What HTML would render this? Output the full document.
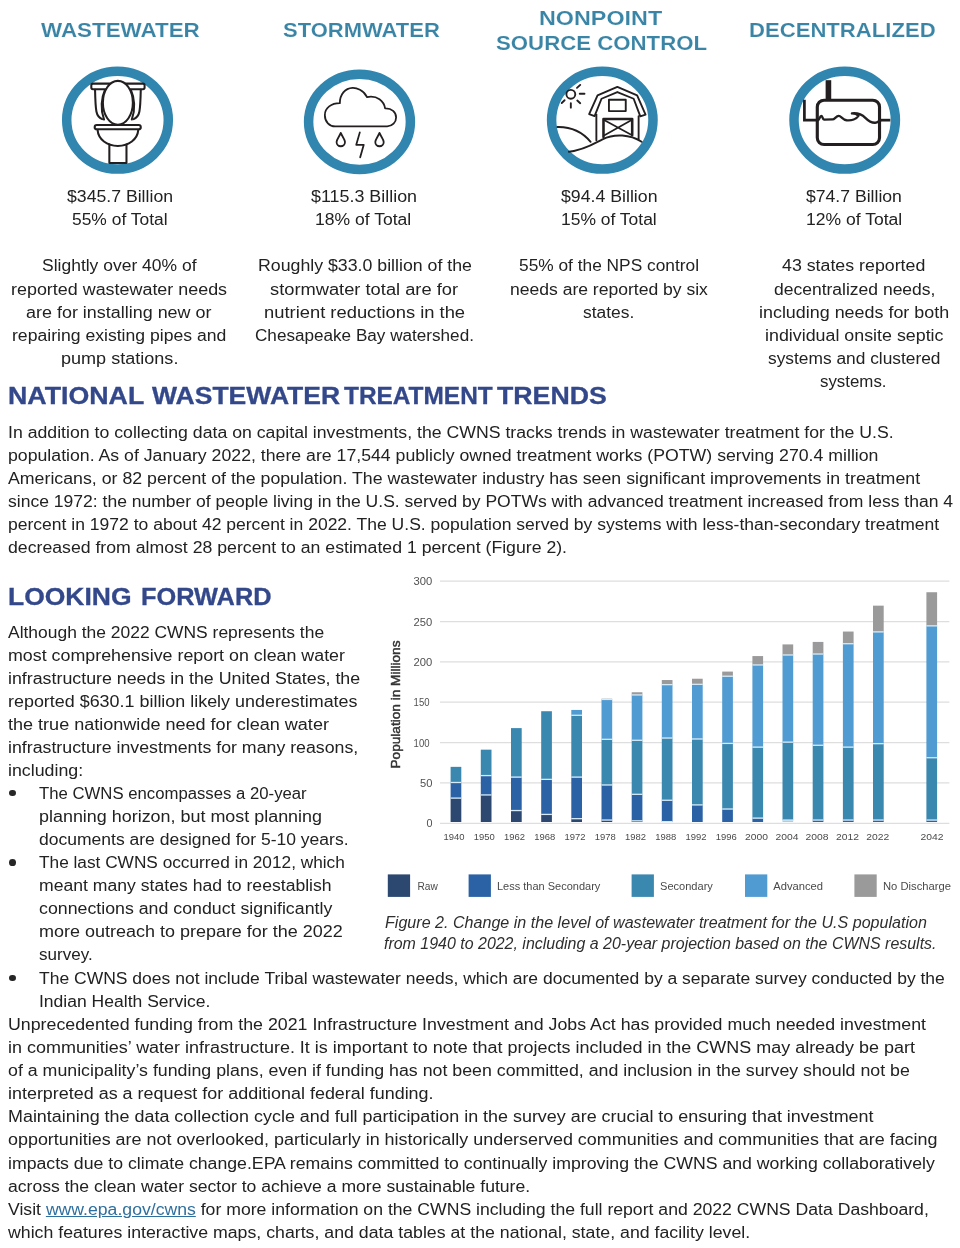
<!DOCTYPE html>
<html><head><meta charset="utf-8"><title>CWNS</title>
<style>
html,body{margin:0;padding:0;background:#fff;}
body{font-family:"Liberation Sans",sans-serif;}
#pg{position:relative;width:960px;height:1248px;overflow:hidden;background:#fff;}
.t{position:absolute;white-space:nowrap;line-height:1.117;transform-origin:0 0;will-change:transform;}
.b{color:#222;font-family:"Liberation Sans",sans-serif;}
.h{font-weight:bold;font-family:"Liberation Sans",sans-serif;}
.c{font-style:italic;color:#2e2e2e;font-family:"Liberation Sans",sans-serif;}
.b u{color:#2e6f9e;text-decoration:underline;}
svg{position:absolute;overflow:visible;will-change:transform;}
.bu{position:absolute;width:7px;height:6.7px;border-radius:50%;background:#262626;}
.h2{word-spacing:-2.6px;}
.hs{-webkit-text-stroke:0.1px #fff;}
.hb{-webkit-text-stroke:0.3px currentColor;}

</style></head>
<body>
<div id="pg">
<!-- icon rings -->
<svg width="960" height="190" style="left:0;top:0" viewBox="0 0 960 190">
 <g fill="none" stroke="#3186b0" stroke-width="9.5">
  <ellipse cx="117.5" cy="120.1" rx="50.8" ry="48.95"/>
  <ellipse cx="359.5" cy="121.85" rx="50.9" ry="47.7"/>
  <ellipse cx="602.3" cy="120.1" rx="50.7" ry="48.95"/>
  <ellipse cx="844.7" cy="120.1" rx="50.7" ry="48.95"/>
 </g>
 <!-- toilet : zoom coords origin (85,75) scale 1/13.14 -->
 <g transform="translate(85,75) scale(0.0761)" fill="none" stroke="#231f20" stroke-width="27" stroke-linecap="round" stroke-linejoin="round">
  <rect x="83" y="113" width="700" height="74" rx="22"/>
  <path d="M132,195 C135,330 140,430 150,480 C160,530 190,565 225,580"/>
  <path d="M733,195 C730,330 725,430 715,480 C705,530 675,565 640,580"/>
  <path d="M262,197 C215,300 200,450 250,585"/>
  <path d="M603,197 C650,300 665,450 615,585"/>
  <ellipse cx="432" cy="365" rx="197" ry="288" fill="#fff"/>
  <rect x="127" y="657" width="606" height="56" rx="28" fill="#fff"/>
  <path d="M165,722 C175,850 290,930 432,932 C575,930 690,850 700,722"/>
  <path d="M320,915 L320,1157 L545,1157 L545,915"/>
 </g>
 <!-- cloud : origin (315,75) scale 1/10.667 -->
 <g transform="translate(315,75) scale(0.09375)" fill="none" stroke="#231f20" stroke-width="19" stroke-linecap="round" stroke-linejoin="round">
  <path d="M215,548 L770,548 C825,548 865,505 865,452 C865,400 820,352 748,355 C735,275 665,215 555,235 C520,160 440,135 400,137 C320,140 265,210 265,300 C175,300 105,350 105,428 C105,500 155,548 215,548 Z"/>
  <path d="M275,618 C258,660 230,688 230,715 A45,45 0 0 0 320,715 C320,688 292,660 275,618 Z"/>
  <path d="M688,618 C671,660 643,688 643,715 A45,45 0 0 0 733,715 C733,688 705,660 688,618 Z"/>
  <path d="M478,612 L440,745 L520,745 L482,878"/>
 </g>
 <!-- barn : origin (555,75) scale 1/10.105 -->
 <g transform="translate(555,75) scale(0.09896)" fill="none" stroke="#231f20" stroke-width="19" stroke-linecap="round" stroke-linejoin="round">
  <path d="M400,415 L345,395 L430,205 L630,120 L830,205 L915,400 L862,418 L795,240 L630,172 L470,240 Z"/>
  <path d="M418,400 L418,660"/>
  <path d="M845,415 L845,650"/>
  <rect x="545" y="250" width="170" height="115"/>
  <path d="M490,626 L490,445 L780,445 L780,610" stroke-width="26"/>
  <path d="M500,458 L770,603 M770,458 L500,608" stroke-width="17"/>
  <circle cx="160" cy="195" r="45"/>
  <path d="M222,130 L255,100 M250,190 L298,190 M225,258 L255,285 M160,285 L160,330 M97,255 L68,283"/>
  <path d="M25,525 Q230,520 360,675"/>
  <path d="M140,775 C300,760 400,690 480,650 C600,590 760,600 875,675"/>
 </g>
 <!-- septic : origin (782,60) scale 1/7.68 -->
 <g transform="translate(782,60) scale(0.130208)" fill="none" stroke="#231f20" stroke-width="24" stroke-linecap="butt" stroke-linejoin="round">
  <rect x="271" y="309" width="478" height="340" rx="52"/>
  <rect x="335" y="155" width="43" height="152" fill="#231f20" stroke="none"/>
  <path d="M172,305 L172,462 L268,462" stroke-width="21" stroke-linejoin="miter"/>
  <path d="M752,462 L832,462" stroke-width="21"/>
  <path d="M275,463 C286,463 290,429 302,429 C312,429 309,455 324,458 L389,456 C404,456 416,429 435,429 C454,429 465,459 496,463 C534,467 572,452 587,429 C575,414 553,410 537,410 C579,406 617,421 640,444 C663,467 686,484 716,482 C735,481 747,465 758,463" stroke-width="18" stroke-linecap="round"/>
 </g>
</svg>
<svg width="960" height="340" style="left:0;top:570px" viewBox="0 570 960 340">
<line x1="440.0" y1="823.3" x2="949.4" y2="823.3" stroke="#dedede" stroke-width="1.2"/>
<text x="426.5" y="827.3" font-size="10.2" fill="#505050" class="ax" textLength="6.0" lengthAdjust="spacingAndGlyphs">0</text>
<line x1="440.0" y1="782.9" x2="949.4" y2="782.9" stroke="#dedede" stroke-width="1.2"/>
<text x="420.1" y="786.9" font-size="10.2" fill="#505050" class="ax" textLength="12.4" lengthAdjust="spacingAndGlyphs">50</text>
<line x1="440.0" y1="742.6" x2="949.4" y2="742.6" stroke="#dedede" stroke-width="1.2"/>
<text x="413.6" y="746.6" font-size="10.2" fill="#505050" class="ax" textLength="15.9" lengthAdjust="spacingAndGlyphs">100</text>
<line x1="440.0" y1="702.2" x2="949.4" y2="702.2" stroke="#dedede" stroke-width="1.2"/>
<text x="413.6" y="706.2" font-size="10.2" fill="#505050" class="ax" textLength="15.9" lengthAdjust="spacingAndGlyphs">150</text>
<line x1="440.0" y1="661.9" x2="949.4" y2="661.9" stroke="#dedede" stroke-width="1.2"/>
<text x="413.6" y="665.9" font-size="10.2" fill="#505050" class="ax" textLength="18.7" lengthAdjust="spacingAndGlyphs">200</text>
<line x1="440.0" y1="621.6" x2="949.4" y2="621.6" stroke="#dedede" stroke-width="1.2"/>
<text x="413.6" y="625.6" font-size="10.2" fill="#505050" class="ax" textLength="18.7" lengthAdjust="spacingAndGlyphs">250</text>
<line x1="440.0" y1="581.2" x2="949.4" y2="581.2" stroke="#dedede" stroke-width="1.2"/>
<text x="413.6" y="585.2" font-size="10.2" fill="#505050" class="ax" textLength="18.7" lengthAdjust="spacingAndGlyphs">300</text>
<rect x="450.6" y="798.14" width="10.7" height="23.86" fill="#2c4770"/>
<rect x="450.6" y="782.54" width="10.7" height="15.60" fill="#2b62a6"/>
<rect x="450.6" y="797.44" width="10.7" height="1.3" fill="#d6eaf7"/>
<rect x="450.6" y="766.86" width="10.7" height="15.68" fill="#3a87b0"/>
<rect x="450.6" y="781.84" width="10.7" height="1.3" fill="#d6eaf7"/>
<text x="443.4" y="839.8" font-size="9.6" fill="#4a4a4a" class="ax" textLength="21.0" lengthAdjust="spacingAndGlyphs">1940</text>
<rect x="480.8" y="795.00" width="10.7" height="27.00" fill="#2c4770"/>
<rect x="480.8" y="775.63" width="10.7" height="19.38" fill="#2b62a6"/>
<rect x="480.8" y="794.30" width="10.7" height="1.3" fill="#d6eaf7"/>
<rect x="480.8" y="749.66" width="10.7" height="25.97" fill="#3a87b0"/>
<rect x="480.8" y="774.93" width="10.7" height="1.3" fill="#d6eaf7"/>
<text x="473.7" y="839.8" font-size="9.6" fill="#4a4a4a" class="ax" textLength="21.0" lengthAdjust="spacingAndGlyphs">1950</text>
<rect x="511.0" y="810.60" width="10.7" height="11.40" fill="#2c4770"/>
<rect x="511.0" y="777.15" width="10.7" height="33.45" fill="#2b62a6"/>
<rect x="511.0" y="809.90" width="10.7" height="1.3" fill="#d6eaf7"/>
<rect x="511.0" y="728.11" width="10.7" height="49.04" fill="#3a87b0"/>
<rect x="511.0" y="776.45" width="10.7" height="1.3" fill="#d6eaf7"/>
<text x="503.9" y="839.8" font-size="9.6" fill="#4a4a4a" class="ax" textLength="21.0" lengthAdjust="spacingAndGlyphs">1962</text>
<rect x="541.2" y="814.46" width="10.7" height="7.54" fill="#2c4770"/>
<rect x="541.2" y="779.41" width="10.7" height="35.05" fill="#2b62a6"/>
<rect x="541.2" y="813.76" width="10.7" height="1.3" fill="#d6eaf7"/>
<rect x="541.2" y="711.23" width="10.7" height="68.18" fill="#3a87b0"/>
<rect x="541.2" y="778.71" width="10.7" height="1.3" fill="#d6eaf7"/>
<text x="534.2" y="839.8" font-size="9.6" fill="#4a4a4a" class="ax" textLength="21.0" lengthAdjust="spacingAndGlyphs">1968</text>
<rect x="571.3" y="818.72" width="10.7" height="3.28" fill="#2c4770"/>
<rect x="571.3" y="777.15" width="10.7" height="41.57" fill="#2b62a6"/>
<rect x="571.3" y="818.02" width="10.7" height="1.3" fill="#d6eaf7"/>
<rect x="571.3" y="715.33" width="10.7" height="61.83" fill="#3a87b0"/>
<rect x="571.3" y="776.45" width="10.7" height="1.3" fill="#d6eaf7"/>
<rect x="571.3" y="709.94" width="10.7" height="5.39" fill="#519bd3"/>
<rect x="571.3" y="714.63" width="10.7" height="1.3" fill="#d6eaf7"/>
<text x="564.5" y="839.8" font-size="9.6" fill="#4a4a4a" class="ax" textLength="21.0" lengthAdjust="spacingAndGlyphs">1972</text>
<rect x="601.5" y="820.09" width="10.7" height="1.91" fill="#2c4770"/>
<rect x="601.5" y="785.03" width="10.7" height="35.05" fill="#2b62a6"/>
<rect x="601.5" y="819.39" width="10.7" height="1.3" fill="#d6eaf7"/>
<rect x="601.5" y="739.37" width="10.7" height="45.67" fill="#3a87b0"/>
<rect x="601.5" y="784.33" width="10.7" height="1.3" fill="#d6eaf7"/>
<rect x="601.5" y="699.49" width="10.7" height="39.88" fill="#519bd3"/>
<rect x="601.5" y="738.67" width="10.7" height="1.3" fill="#d6eaf7"/>
<rect x="601.5" y="698.68" width="10.7" height="0.80" fill="#9a9a9a"/>
<rect x="601.5" y="698.79" width="10.7" height="1.3" fill="#d6eaf7"/>
<text x="594.8" y="839.8" font-size="9.6" fill="#4a4a4a" class="ax" textLength="21.0" lengthAdjust="spacingAndGlyphs">1978</text>
<rect x="631.7" y="820.89" width="10.7" height="1.11" fill="#2c4770"/>
<rect x="631.7" y="794.36" width="10.7" height="26.53" fill="#2b62a6"/>
<rect x="631.7" y="820.19" width="10.7" height="1.3" fill="#d6eaf7"/>
<rect x="631.7" y="740.33" width="10.7" height="54.03" fill="#3a87b0"/>
<rect x="631.7" y="793.66" width="10.7" height="1.3" fill="#d6eaf7"/>
<rect x="631.7" y="694.99" width="10.7" height="45.35" fill="#519bd3"/>
<rect x="631.7" y="739.63" width="10.7" height="1.3" fill="#d6eaf7"/>
<rect x="631.7" y="692.25" width="10.7" height="2.73" fill="#9a9a9a"/>
<rect x="631.7" y="694.29" width="10.7" height="1.3" fill="#d6eaf7"/>
<text x="625.0" y="839.8" font-size="9.6" fill="#4a4a4a" class="ax" textLength="21.0" lengthAdjust="spacingAndGlyphs">1982</text>
<rect x="661.8" y="821.70" width="10.7" height="0.30" fill="#2c4770"/>
<rect x="661.8" y="800.31" width="10.7" height="21.39" fill="#2b62a6"/>
<rect x="661.8" y="821.00" width="10.7" height="1.3" fill="#d6eaf7"/>
<rect x="661.8" y="738.08" width="10.7" height="62.23" fill="#3a87b0"/>
<rect x="661.8" y="799.61" width="10.7" height="1.3" fill="#d6eaf7"/>
<rect x="661.8" y="684.69" width="10.7" height="53.39" fill="#519bd3"/>
<rect x="661.8" y="737.38" width="10.7" height="1.3" fill="#d6eaf7"/>
<rect x="661.8" y="680.03" width="10.7" height="4.66" fill="#9a9a9a"/>
<rect x="661.8" y="683.99" width="10.7" height="1.3" fill="#d6eaf7"/>
<text x="655.3" y="839.8" font-size="9.6" fill="#4a4a4a" class="ax" textLength="21.0" lengthAdjust="spacingAndGlyphs">1988</text>
<rect x="692.0" y="804.97" width="10.7" height="17.03" fill="#2b62a6"/>
<rect x="692.0" y="739.04" width="10.7" height="65.93" fill="#3a87b0"/>
<rect x="692.0" y="804.27" width="10.7" height="1.3" fill="#d6eaf7"/>
<rect x="692.0" y="684.37" width="10.7" height="54.67" fill="#519bd3"/>
<rect x="692.0" y="738.34" width="10.7" height="1.3" fill="#d6eaf7"/>
<rect x="692.0" y="678.74" width="10.7" height="5.63" fill="#9a9a9a"/>
<rect x="692.0" y="683.67" width="10.7" height="1.3" fill="#d6eaf7"/>
<text x="685.6" y="839.8" font-size="9.6" fill="#4a4a4a" class="ax" textLength="21.0" lengthAdjust="spacingAndGlyphs">1992</text>
<rect x="722.2" y="809.07" width="10.7" height="12.93" fill="#2b62a6"/>
<rect x="722.2" y="743.47" width="10.7" height="65.61" fill="#3a87b0"/>
<rect x="722.2" y="808.37" width="10.7" height="1.3" fill="#d6eaf7"/>
<rect x="722.2" y="676.25" width="10.7" height="67.21" fill="#519bd3"/>
<rect x="722.2" y="742.77" width="10.7" height="1.3" fill="#d6eaf7"/>
<rect x="722.2" y="671.59" width="10.7" height="4.66" fill="#9a9a9a"/>
<rect x="722.2" y="675.55" width="10.7" height="1.3" fill="#d6eaf7"/>
<text x="715.8" y="839.8" font-size="9.6" fill="#4a4a4a" class="ax" textLength="21.0" lengthAdjust="spacingAndGlyphs">1996</text>
<rect x="752.4" y="818.16" width="10.7" height="3.84" fill="#2b62a6"/>
<rect x="752.4" y="747.17" width="10.7" height="70.99" fill="#3a87b0"/>
<rect x="752.4" y="817.46" width="10.7" height="1.3" fill="#d6eaf7"/>
<rect x="752.4" y="665.00" width="10.7" height="82.17" fill="#519bd3"/>
<rect x="752.4" y="746.47" width="10.7" height="1.3" fill="#d6eaf7"/>
<rect x="752.4" y="656.07" width="10.7" height="8.92" fill="#9a9a9a"/>
<rect x="752.4" y="664.30" width="10.7" height="1.3" fill="#d6eaf7"/>
<text x="745.1" y="839.8" font-size="9.6" fill="#4a4a4a" class="ax" textLength="23.0" lengthAdjust="spacingAndGlyphs">2000</text>
<rect x="782.5" y="820.09" width="10.7" height="1.91" fill="#a8cfe6"/>
<rect x="782.5" y="742.18" width="10.7" height="77.91" fill="#3a87b0"/>
<rect x="782.5" y="819.39" width="10.7" height="1.3" fill="#d6eaf7"/>
<rect x="782.5" y="655.03" width="10.7" height="87.15" fill="#519bd3"/>
<rect x="782.5" y="741.48" width="10.7" height="1.3" fill="#d6eaf7"/>
<rect x="782.5" y="644.41" width="10.7" height="10.61" fill="#9a9a9a"/>
<rect x="782.5" y="654.33" width="10.7" height="1.3" fill="#d6eaf7"/>
<text x="775.4" y="839.8" font-size="9.6" fill="#4a4a4a" class="ax" textLength="23.0" lengthAdjust="spacingAndGlyphs">2004</text>
<rect x="812.7" y="820.09" width="10.7" height="1.91" fill="#2b62a6"/>
<rect x="812.7" y="745.32" width="10.7" height="74.77" fill="#3a87b0"/>
<rect x="812.7" y="819.39" width="10.7" height="1.3" fill="#d6eaf7"/>
<rect x="812.7" y="654.06" width="10.7" height="91.25" fill="#519bd3"/>
<rect x="812.7" y="744.62" width="10.7" height="1.3" fill="#d6eaf7"/>
<rect x="812.7" y="641.92" width="10.7" height="12.14" fill="#9a9a9a"/>
<rect x="812.7" y="653.36" width="10.7" height="1.3" fill="#d6eaf7"/>
<text x="805.6" y="839.8" font-size="9.6" fill="#4a4a4a" class="ax" textLength="23.0" lengthAdjust="spacingAndGlyphs">2008</text>
<rect x="842.9" y="820.09" width="10.7" height="1.91" fill="#2b62a6"/>
<rect x="842.9" y="747.17" width="10.7" height="72.92" fill="#3a87b0"/>
<rect x="842.9" y="819.39" width="10.7" height="1.3" fill="#d6eaf7"/>
<rect x="842.9" y="643.77" width="10.7" height="103.39" fill="#519bd3"/>
<rect x="842.9" y="746.47" width="10.7" height="1.3" fill="#d6eaf7"/>
<rect x="842.9" y="631.55" width="10.7" height="12.22" fill="#9a9a9a"/>
<rect x="842.9" y="643.07" width="10.7" height="1.3" fill="#d6eaf7"/>
<text x="835.9" y="839.8" font-size="9.6" fill="#4a4a4a" class="ax" textLength="23.0" lengthAdjust="spacingAndGlyphs">2012</text>
<rect x="873.0" y="820.09" width="10.7" height="1.91" fill="#2b62a6"/>
<rect x="873.0" y="743.71" width="10.7" height="76.38" fill="#3a87b0"/>
<rect x="873.0" y="819.39" width="10.7" height="1.3" fill="#d6eaf7"/>
<rect x="873.0" y="631.95" width="10.7" height="111.76" fill="#519bd3"/>
<rect x="873.0" y="743.01" width="10.7" height="1.3" fill="#d6eaf7"/>
<rect x="873.0" y="605.66" width="10.7" height="26.29" fill="#9a9a9a"/>
<rect x="873.0" y="631.25" width="10.7" height="1.3" fill="#d6eaf7"/>
<text x="866.2" y="839.8" font-size="9.6" fill="#4a4a4a" class="ax" textLength="23.0" lengthAdjust="spacingAndGlyphs">2022</text>
<rect x="926.4" y="820.09" width="10.7" height="1.91" fill="#2b62a6"/>
<rect x="926.4" y="757.78" width="10.7" height="62.31" fill="#3a87b0"/>
<rect x="926.4" y="819.39" width="10.7" height="1.3" fill="#d6eaf7"/>
<rect x="926.4" y="625.92" width="10.7" height="131.86" fill="#519bd3"/>
<rect x="926.4" y="757.08" width="10.7" height="1.3" fill="#d6eaf7"/>
<rect x="926.4" y="592.23" width="10.7" height="33.69" fill="#9a9a9a"/>
<rect x="926.4" y="625.22" width="10.7" height="1.3" fill="#d6eaf7"/>
<text x="920.5" y="839.8" font-size="9.6" fill="#4a4a4a" class="ax" textLength="23.0" lengthAdjust="spacingAndGlyphs">2042</text>
<text transform="translate(400,768.5) rotate(-90)" font-size="12.6" fill="#333" stroke="#333" stroke-width="0.45" class="ax" textLength="128" lengthAdjust="spacingAndGlyphs">Population in Millions</text>
<rect x="387.8" y="874.4" width="22.3" height="22.5" fill="#2c4770"/>
<text x="417.5" y="890" font-size="10" fill="#4a4a4a" class="ax" textLength="20.3" lengthAdjust="spacingAndGlyphs">Raw</text>
<rect x="468.6" y="874.4" width="22.3" height="22.5" fill="#2b62a6"/>
<text x="497.0" y="890" font-size="10" fill="#4a4a4a" class="ax" textLength="103.3" lengthAdjust="spacingAndGlyphs">Less than Secondary</text>
<rect x="631.6" y="874.4" width="22.3" height="22.5" fill="#3a87b0"/>
<text x="660.0" y="890" font-size="10" fill="#4a4a4a" class="ax" textLength="52.9" lengthAdjust="spacingAndGlyphs">Secondary</text>
<rect x="745.0" y="874.4" width="22.3" height="22.5" fill="#519bd3"/>
<text x="773.2" y="890" font-size="10" fill="#4a4a4a" class="ax" textLength="49.8" lengthAdjust="spacingAndGlyphs">Advanced</text>
<rect x="854.4" y="874.4" width="22.3" height="22.5" fill="#9a9a9a"/>
<text x="883.0" y="890" font-size="10" fill="#4a4a4a" class="ax" textLength="68.0" lengthAdjust="spacingAndGlyphs">No Discharge</text>
</svg>

<div class="t b" style="left:66.7px;top:188.4px;font-size:15.6px;transform:scaleX(1.1323)">$345.7 Billion</div>
<div class="t b" style="left:71.6px;top:211.4px;font-size:15.6px;transform:scaleX(1.1167)">55% of Total</div>
<div class="t b" style="left:41.7px;top:257.4px;font-size:15.6px;transform:scaleX(1.1212)">Slightly over 40% of</div>
<div class="t b" style="left:11.1px;top:280.9px;font-size:15.6px;transform:scaleX(1.1487)">reported wastewater needs</div>
<div class="t b" style="left:26.0px;top:303.9px;font-size:15.6px;transform:scaleX(1.1506)">are for installing new or</div>
<div class="t b" style="left:12.4px;top:326.9px;font-size:15.6px;transform:scaleX(1.1293)">repairing existing pipes and</div>
<div class="t b" style="left:61.0px;top:349.9px;font-size:15.6px;transform:scaleX(1.1576)">pump stations.</div>
<div class="t b" style="left:311.0px;top:188.4px;font-size:15.6px;transform:scaleX(1.1467)">$115.3 Billion</div>
<div class="t b" style="left:315.4px;top:211.4px;font-size:15.6px;transform:scaleX(1.1250)">18% of Total</div>
<div class="t b" style="left:257.5px;top:257.4px;font-size:15.6px;transform:scaleX(1.1374)">Roughly $33.0 billion of the</div>
<div class="t b" style="left:270.1px;top:280.9px;font-size:15.6px;transform:scaleX(1.1730)">stormwater total are for</div>
<div class="t b" style="left:263.8px;top:303.9px;font-size:15.6px;transform:scaleX(1.1775)">nutrient reductions in the</div>
<div class="t b" style="left:254.9px;top:326.9px;font-size:15.6px;transform:scaleX(1.0980)">Chesapeake Bay watershed.</div>
<div class="t b" style="left:560.8px;top:188.4px;font-size:15.6px;transform:scaleX(1.1357)">$94.4 Billion</div>
<div class="t b" style="left:560.9px;top:211.4px;font-size:15.6px;transform:scaleX(1.1190)">15% of Total</div>
<div class="t b" style="left:518.9px;top:257.4px;font-size:15.6px;transform:scaleX(1.1106)">55% of the NPS control</div>
<div class="t b" style="left:509.9px;top:280.9px;font-size:15.6px;transform:scaleX(1.1246)">needs are reported by six</div>
<div class="t b" style="left:583.1px;top:303.9px;font-size:15.6px;transform:scaleX(1.1159)">states.</div>
<div class="t b" style="left:805.7px;top:188.4px;font-size:15.6px;transform:scaleX(1.1286)">$74.7 Billion</div>
<div class="t b" style="left:806.1px;top:211.4px;font-size:15.6px;transform:scaleX(1.1250)">12% of Total</div>
<div class="t b" style="left:781.5px;top:257.4px;font-size:15.6px;transform:scaleX(1.1400)">43 states reported</div>
<div class="t b" style="left:773.6px;top:280.9px;font-size:15.6px;transform:scaleX(1.1218)">decentralized needs,</div>
<div class="t b" style="left:759.1px;top:303.9px;font-size:15.6px;transform:scaleX(1.1482)">including needs for both</div>
<div class="t b" style="left:764.6px;top:326.9px;font-size:15.6px;transform:scaleX(1.1439)">individual onsite septic</div>
<div class="t b" style="left:767.6px;top:349.9px;font-size:15.6px;transform:scaleX(1.1118)">systems and clustered</div>
<div class="t b" style="left:820.1px;top:373.4px;font-size:15.6px;transform:scaleX(1.0814)">systems.</div>
<div class="t b" style="left:8.3px;top:423.7px;font-size:15.6px;transform:scaleX(1.1342)">In addition to collecting data on capital investments, the CWNS tracks trends in wastewater treatment for the U.S.</div>
<div class="t b" style="left:8.3px;top:446.7px;font-size:15.6px;transform:scaleX(1.1347)">population. As of January 2022, there are 17,544 publicly owned treatment works (POTW) serving 270.4 million</div>
<div class="t b" style="left:8.3px;top:469.7px;font-size:15.6px;transform:scaleX(1.1380)">Americans, or 82 percent of the population. The wastewater industry has seen significant improvements in treatment</div>
<div class="t b" style="left:8.3px;top:492.7px;font-size:15.6px;transform:scaleX(1.1240)">since 1972: the number of people living in the U.S. served by POTWs with advanced treatment increased from less than 4</div>
<div class="t b" style="left:8.3px;top:515.7px;font-size:15.6px;transform:scaleX(1.1240)">percent in 1972 to about 42 percent in 2022. The U.S. population served by systems with less-than-secondary treatment</div>
<div class="t b" style="left:8.3px;top:538.7px;font-size:15.6px;transform:scaleX(1.1335)">decreased from almost 28 percent to an estimated 1 percent (Figure 2).</div>
<div class="t b" style="left:8.3px;top:623.9px;font-size:15.6px;transform:scaleX(1.1186)">Although the 2022 CWNS represents the</div>
<div class="t b" style="left:8.3px;top:646.9px;font-size:15.6px;transform:scaleX(1.1434)">most comprehensive report on clean water</div>
<div class="t b" style="left:8.3px;top:669.9px;font-size:15.6px;transform:scaleX(1.1412)">infrastructure needs in the United States, the</div>
<div class="t b" style="left:8.3px;top:693.0px;font-size:15.6px;transform:scaleX(1.1487)">reported $630.1 billion likely underestimates</div>
<div class="t b" style="left:8.3px;top:716.0px;font-size:15.6px;transform:scaleX(1.1569)">the true nationwide need for clean water</div>
<div class="t b" style="left:8.3px;top:739.0px;font-size:15.6px;transform:scaleX(1.1386)">infrastructure investments for many reasons,</div>
<div class="t b" style="left:8.3px;top:762.1px;font-size:15.6px;transform:scaleX(1.1415)">including:</div>
<div class="t b" style="left:39.3px;top:785.1px;font-size:15.6px;transform:scaleX(1.0724)">The CWNS encompasses a 20-year</div>
<div class="t b" style="left:39.3px;top:808.1px;font-size:15.6px;transform:scaleX(1.1494)">planning horizon, but most planning</div>
<div class="t b" style="left:39.3px;top:831.2px;font-size:15.6px;transform:scaleX(1.1230)">documents are designed for 5-10 years.</div>
<div class="t b" style="left:39.3px;top:854.2px;font-size:15.6px;transform:scaleX(1.1062)">The last CWNS occurred in 2012, which</div>
<div class="t b" style="left:39.3px;top:877.2px;font-size:15.6px;transform:scaleX(1.1291)">meant many states had to reestablish</div>
<div class="t b" style="left:39.3px;top:900.2px;font-size:15.6px;transform:scaleX(1.1391)">connections and conduct significantly</div>
<div class="t b" style="left:39.3px;top:923.3px;font-size:15.6px;transform:scaleX(1.1529)">more outreach to prepare for the 2022</div>
<div class="t b" style="left:39.3px;top:946.3px;font-size:15.6px;transform:scaleX(1.0917)">survey.</div>
<div class="t b" style="left:38.8px;top:969.9px;font-size:15.6px;transform:scaleX(1.1225)">The CWNS does not include Tribal wastewater needs, which are documented by a separate survey conducted by the</div>
<div class="t b" style="left:38.8px;top:992.9px;font-size:15.6px;transform:scaleX(1.1238)">Indian Health Service.</div>
<div class="t b" style="left:8.3px;top:1016.3px;font-size:15.6px;transform:scaleX(1.1400)">Unprecedented funding from the 2021 Infrastructure Investment and Jobs Act has provided much needed investment</div>
<div class="t b" style="left:8.3px;top:1039.4px;font-size:15.6px;transform:scaleX(1.1521)">in communities’ water infrastructure. It is important to note that projects included in the CWNS may already be part</div>
<div class="t b" style="left:8.3px;top:1062.4px;font-size:15.6px;transform:scaleX(1.1399)">of a municipality’s funding plans, even if funding has not been committed, and inclusion in the survey should not be</div>
<div class="t b" style="left:8.3px;top:1084.9px;font-size:15.6px;transform:scaleX(1.1496)">interpreted as a request for additional federal funding.</div>
<div class="t b" style="left:8.3px;top:1108.4px;font-size:15.6px;transform:scaleX(1.1490)">Maintaining the data collection cycle and full participation in the survey are crucial to ensuring that investment</div>
<div class="t b" style="left:8.3px;top:1131.4px;font-size:15.6px;transform:scaleX(1.1494)">opportunities are not overlooked, particularly in historically underserved communities and communities that are facing</div>
<div class="t b" style="left:8.3px;top:1154.8px;font-size:15.6px;transform:scaleX(1.1343)">impacts due to climate change.EPA remains committed to continually improving the CWNS and working collaboratively</div>
<div class="t b" style="left:8.3px;top:1177.8px;font-size:15.6px;transform:scaleX(1.1281)">across the clean water sector to achieve a more sustainable future.</div>
<div class="t b" style="left:8.3px;top:1201.3px;font-size:15.6px;transform:scaleX(1.1306)">Visit <u>www.epa.gov/cwns</u> for more information on the CWNS including the full report and 2022 CWNS Data Dashboard,</div>
<div class="t b" style="left:8.3px;top:1223.9px;font-size:15.6px;transform:scaleX(1.1370)">which features interactive maps, charts, and data tables at the national, state, and facility level.</div>
<div class="t h hs" style="left:41.0px;top:18.9px;font-size:20.1px;transform:scaleX(1.1141);color:#3a85a6">WASTEWATER</div>
<div class="t h hs" style="left:282.6px;top:18.9px;font-size:20.1px;transform:scaleX(1.0951);color:#3a85a6">STORMWATER</div>
<div class="t h hs" style="left:538.6px;top:6.7px;font-size:20.1px;transform:scaleX(1.1610);color:#3a85a6">NONPOINT</div>
<div class="t h hs" style="left:496.1px;top:31.8px;font-size:20.1px;transform:scaleX(1.1058);color:#3a85a6">SOURCE CONTROL</div>
<div class="t h hs" style="left:748.5px;top:19.1px;font-size:20.1px;transform:scaleX(1.1000);color:#3a85a6">DECENTRALIZED</div>
<div class="t h hb" style="left:7.8px;top:384.1px;font-size:23.2px;transform:scaleX(1.1538);color:#33488a">NATIONAL</div>
<div class="t h hb" style="left:151.7px;top:384.1px;font-size:23.2px;transform:scaleX(1.1439);color:#33488a">WASTEWATER</div>
<div class="t h hb" style="left:344.3px;top:384.1px;font-size:23.2px;transform:scaleX(1.0525);color:#33488a">TREATMENT</div>
<div class="t h hb" style="left:497.3px;top:384.1px;font-size:23.2px;transform:scaleX(1.1516);color:#33488a">TRENDS</div>
<div class="t h hb" style="left:7.9px;top:584.6px;font-size:23.2px;transform:scaleX(1.1415);color:#33488a">LOOKING</div>
<div class="t h hb" style="left:140.6px;top:584.6px;font-size:23.2px;transform:scaleX(1.0932);color:#33488a">FORWARD</div>
<div class="t c" style="left:384.7px;top:914.0px;font-size:15.6px;transform:scaleX(1.0317)">Figure 2. Change in the level of wastewater treatment for the U.S population</div>
<div class="t c" style="left:384.0px;top:935.3px;font-size:15.6px;transform:scaleX(1.0231)">from 1940 to 2022, including a 20-year projection based on the CWNS results.</div>
<div class="bu" style="left:9.2px;top:789.8px"></div><div class="bu" style="left:9.2px;top:858.9px"></div><div class="bu" style="left:9.2px;top:974.8px"></div>
</div>
</body></html>
